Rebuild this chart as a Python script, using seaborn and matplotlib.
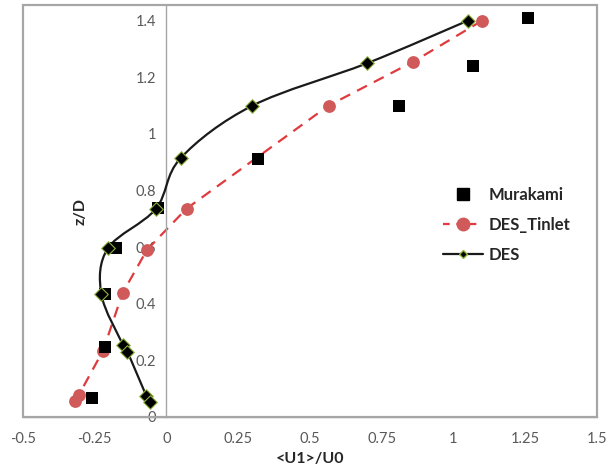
import numpy as np
import seaborn as sns
import matplotlib.pyplot as plt
from matplotlib.path import Path
from matplotlib.patches import PathPatch, Rectangle
from matplotlib.lines import Line2D
from matplotlib.ticker import FuncFormatter

# Data
murakami_u = [1.26, 1.07, 0.81, 0.32, -0.028, -0.177, -0.213, -0.214, -0.258]
murakami_z = [1.41, 1.24, 1.10, 0.91, 0.739, 0.596, 0.434, 0.246, 0.068]

tinlet_u = [1.10, 0.86, 0.565, 0.07, -0.068, -0.153, -0.221, -0.305, -0.32]
tinlet_z = [1.40, 1.255, 1.10, 0.736, 0.59, 0.437, 0.234, 0.078, 0.057]

des_u = [1.05, 0.70, 0.30, 0.05, -0.037, -0.204, -0.227, -0.151, -0.136, -0.07, -0.056]
des_z = [1.40, 1.25, 1.10, 0.915, 0.735, 0.596, 0.434, 0.254, 0.231, 0.074, 0.054]

x_ticks = [-0.5, -0.25, 0, 0.25, 0.5, 0.75, 1, 1.25, 1.5]
y_ticks = [0, 0.2, 0.4, 0.6, 0.8, 1, 1.2, 1.4]

tick_color = '#595959'
frame_color = '#a6a6a6'
red_line = '#e03a3e'
red_marker = '#d05a5a'
green_edge = '#8fb53c'


def smooth_path(xs, ys):
    # Excel-like smoothed line: Catmull-Rom segments drawn as cubic Beziers
    pts = np.column_stack([xs, ys])
    n = len(pts)
    verts = [pts[0]]
    codes = [Path.MOVETO]
    for i in range(n - 1):
        p0 = pts[max(i - 1, 0)]
        p1 = pts[i]
        p2 = pts[i + 1]
        p3 = pts[min(i + 2, n - 1)]
        verts += [p1 + (p2 - p0) / 6, p2 - (p3 - p1) / 6, p2]
        codes += [Path.CURVE4] * 3
    return Path(verts, codes)


sns.set_style('white')
plt.rcParams['font.family'] = ['Lato', 'DejaVu Sans']

fig = plt.figure(figsize=(6.13, 4.70), dpi=100)
ax = fig.add_axes([0.0375, 0.113, 0.936, 0.876])

# DES_Tinlet: straight dashed segments
sns.lineplot(x=tinlet_u, y=tinlet_z, sort=False, estimator=None, color=red_line,
             lw=1.6, linestyle=(0, (5, 3.5)), ax=ax, zorder=2)
# DES: smoothed solid line
ax.add_patch(PathPatch(smooth_path(des_u, des_z), fill=False, edgecolor='#1a1a1a',
                       lw=1.6, zorder=3))

sns.scatterplot(x=murakami_u, y=murakami_z, marker='s', s=85, color='black',
                edgecolor='black', linewidth=0, ax=ax, zorder=4)
sns.scatterplot(x=tinlet_u, y=tinlet_z, marker='o', s=85, color=red_marker,
                edgecolor=red_marker, linewidth=0, ax=ax, zorder=3)
sns.scatterplot(x=des_u, y=des_z, marker='D', s=48, color='black',
                edgecolor=green_edge, linewidth=0.8, ax=ax, zorder=5)

ax.set_xlim(-0.5, 1.5)
ax.set_ylim(0, 1.455)
ax.set_xticks(x_ticks)
ax.set_yticks(y_ticks)
fmt = FuncFormatter(lambda v, p: '{:g}'.format(v))
ax.xaxis.set_major_formatter(fmt)
ax.yaxis.set_major_formatter(fmt)

# y axis crosses at x = 0, plot area drawn as a grey box
ax.spines['left'].set_position(('data', 0))
for s in ['top', 'right']:
    ax.spines[s].set_visible(False)
for s in ['left', 'bottom']:
    ax.spines[s].set_color(frame_color)
    ax.spines[s].set_linewidth(1.0)
ax.add_patch(Rectangle((0, 0), 1, 1, transform=ax.transAxes, fill=False,
                       edgecolor=frame_color, lw=1.6, zorder=1, clip_on=False))

ax.tick_params(axis='both', direction='out', length=4, width=1, color=frame_color,
               labelsize=10.5, labelcolor=tick_color)
ax.tick_params(axis='x', pad=7)

ax.set_xlabel('<U1>/U0', fontsize=11.5, fontweight='bold', color='#262626', labelpad=4)
ax.set_ylabel('z/D', fontsize=11.5, fontweight='bold', color='#262626')
ax.yaxis.set_label_coords(0.113, 0.5)

handles = [
    Line2D([], [], ls='none', marker='s', ms=9, color='black'),
    Line2D([], [], ls=(0, (3, 3)), lw=1.6, color=red_line, marker='o', ms=9,
           markerfacecolor=red_marker, markeredgecolor=red_marker),
    Line2D([], [], ls='-', lw=1.6, color='#1a1a1a', marker='D', ms=4,
           markerfacecolor='black', markeredgecolor=green_edge),
]
ax.legend(handles, ['Murakami', 'DES_Tinlet', 'DES'], loc='center left',
          bbox_to_anchor=(0.718, 0.466), frameon=False, borderpad=0,
          prop={'weight': 'bold', 'size': 12}, handlelength=2.4,
          handletextpad=0.35, labelspacing=0.85)

fig.savefig('out.png', dpi=100)
